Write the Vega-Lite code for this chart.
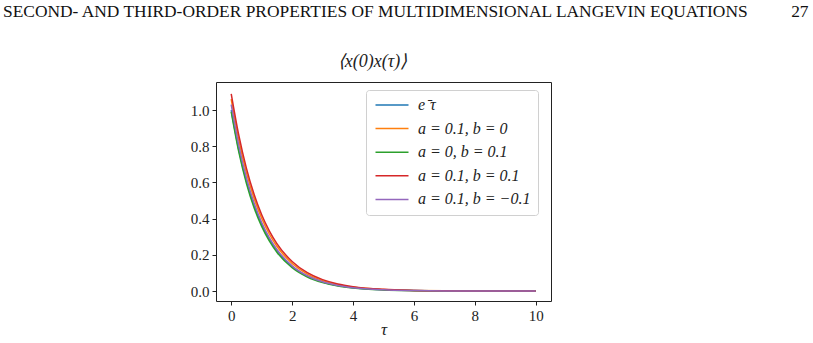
{
  "$schema": "https://vega.github.io/schema/vega-lite/v6.json",
  "autosize": {"type": "none"},
  "width": 335,
  "height": 219,
  "padding": {"left": 216, "top": 82, "right": 262, "bottom": 42},
  "background": "white",
  "title": {
    "text": "SECOND- AND THIRD-ORDER PROPERTIES OF MULTIDIMENSIONAL LANGEVIN EQUATIONS\u00a0\u00a0\u00a0\u00a0\u00a0\u00a0\u00a0\u00a0\u00a0\u00a027",
    "anchor": "start",
    "frame": "group",
    "dx": -213,
    "offset": 32,
    "font": "Liberation Serif",
    "fontSize": 17.4,
    "fontWeight": "normal",
    "color": "#111"
  },
  "config": {
    "view": {"stroke": "#222", "strokeWidth": 1},
    "axis": {
      "domain": false,
      "grid": false,
      "tickColor": "#222",
      "tickSize": 4,
      "labelFont": "Liberation Serif",
      "labelFontSize": 15,
      "labelColor": "#222",
      "labelPadding": 3,
      "titleFont": "Liberation Serif",
      "titleFontSize": 17,
      "titleFontWeight": "normal",
      "titleColor": "#222"
    }
  },
  "data": {
    "values": [
      {"tau": 0, "v": 1.0, "s": "e⁻τ"},
      {"tau": 0.25, "v": 0.7788, "s": "e⁻τ"},
      {"tau": 0.5, "v": 0.6065, "s": "e⁻τ"},
      {"tau": 0.75, "v": 0.4724, "s": "e⁻τ"},
      {"tau": 1, "v": 0.3679, "s": "e⁻τ"},
      {"tau": 1.25, "v": 0.2865, "s": "e⁻τ"},
      {"tau": 1.5, "v": 0.2231, "s": "e⁻τ"},
      {"tau": 2, "v": 0.1353, "s": "e⁻τ"},
      {"tau": 2.5, "v": 0.0821, "s": "e⁻τ"},
      {"tau": 3, "v": 0.0498, "s": "e⁻τ"},
      {"tau": 3.5, "v": 0.0302, "s": "e⁻τ"},
      {"tau": 4, "v": 0.0183, "s": "e⁻τ"},
      {"tau": 5, "v": 0.0067, "s": "e⁻τ"},
      {"tau": 6, "v": 0.0025, "s": "e⁻τ"},
      {"tau": 7, "v": 0.0009, "s": "e⁻τ"},
      {"tau": 8, "v": 0.0003, "s": "e⁻τ"},
      {"tau": 9, "v": 0.0001, "s": "e⁻τ"},
      {"tau": 10, "v": 0.0, "s": "e⁻τ"},

      {"tau": 0, "v": 1.06, "s": "a = 0.1, b = 0"},
      {"tau": 0.25, "v": 0.8318, "s": "a = 0.1, b = 0"},
      {"tau": 0.5, "v": 0.6526, "s": "a = 0.1, b = 0"},
      {"tau": 0.75, "v": 0.5121, "s": "a = 0.1, b = 0"},
      {"tau": 1, "v": 0.4018, "s": "a = 0.1, b = 0"},
      {"tau": 1.25, "v": 0.3152, "s": "a = 0.1, b = 0"},
      {"tau": 1.5, "v": 0.2474, "s": "a = 0.1, b = 0"},
      {"tau": 2, "v": 0.1523, "s": "a = 0.1, b = 0"},
      {"tau": 2.5, "v": 0.0938, "s": "a = 0.1, b = 0"},
      {"tau": 3, "v": 0.0578, "s": "a = 0.1, b = 0"},
      {"tau": 3.5, "v": 0.0355, "s": "a = 0.1, b = 0"},
      {"tau": 4, "v": 0.0218, "s": "a = 0.1, b = 0"},
      {"tau": 5, "v": 0.0083, "s": "a = 0.1, b = 0"},
      {"tau": 6, "v": 0.0032, "s": "a = 0.1, b = 0"},
      {"tau": 7, "v": 0.0012, "s": "a = 0.1, b = 0"},
      {"tau": 8, "v": 0.0004, "s": "a = 0.1, b = 0"},
      {"tau": 9, "v": 0.0002, "s": "a = 0.1, b = 0"},
      {"tau": 10, "v": 0.0001, "s": "a = 0.1, b = 0"},

      {"tau": 0, "v": 0.99, "s": "a = 0, b = 0.1"},
      {"tau": 0.25, "v": 0.7672, "s": "a = 0, b = 0.1"},
      {"tau": 0.5, "v": 0.5945, "s": "a = 0, b = 0.1"},
      {"tau": 0.75, "v": 0.4606, "s": "a = 0, b = 0.1"},
      {"tau": 1, "v": 0.357, "s": "a = 0, b = 0.1"},
      {"tau": 1.25, "v": 0.2766, "s": "a = 0, b = 0.1"},
      {"tau": 1.5, "v": 0.2143, "s": "a = 0, b = 0.1"},
      {"tau": 2, "v": 0.1287, "s": "a = 0, b = 0.1"},
      {"tau": 2.5, "v": 0.0773, "s": "a = 0, b = 0.1"},
      {"tau": 3, "v": 0.0464, "s": "a = 0, b = 0.1"},
      {"tau": 3.5, "v": 0.0279, "s": "a = 0, b = 0.1"},
      {"tau": 4, "v": 0.0167, "s": "a = 0, b = 0.1"},
      {"tau": 5, "v": 0.006, "s": "a = 0, b = 0.1"},
      {"tau": 6, "v": 0.0022, "s": "a = 0, b = 0.1"},
      {"tau": 7, "v": 0.0008, "s": "a = 0, b = 0.1"},
      {"tau": 8, "v": 0.0003, "s": "a = 0, b = 0.1"},
      {"tau": 9, "v": 0.0001, "s": "a = 0, b = 0.1"},
      {"tau": 10, "v": 0.0, "s": "a = 0, b = 0.1"},

      {"tau": 0, "v": 1.09, "s": "a = 0.1, b = 0.1"},
      {"tau": 0.25, "v": 0.8596, "s": "a = 0.1, b = 0.1"},
      {"tau": 0.5, "v": 0.6779, "s": "a = 0.1, b = 0.1"},
      {"tau": 0.75, "v": 0.5345, "s": "a = 0.1, b = 0.1"},
      {"tau": 1, "v": 0.4215, "s": "a = 0.1, b = 0.1"},
      {"tau": 1.25, "v": 0.3325, "s": "a = 0.1, b = 0.1"},
      {"tau": 1.5, "v": 0.2621, "s": "a = 0.1, b = 0.1"},
      {"tau": 2, "v": 0.1631, "s": "a = 0.1, b = 0.1"},
      {"tau": 2.5, "v": 0.1014, "s": "a = 0.1, b = 0.1"},
      {"tau": 3, "v": 0.063, "s": "a = 0.1, b = 0.1"},
      {"tau": 3.5, "v": 0.0392, "s": "a = 0.1, b = 0.1"},
      {"tau": 4, "v": 0.0244, "s": "a = 0.1, b = 0.1"},
      {"tau": 5, "v": 0.0094, "s": "a = 0.1, b = 0.1"},
      {"tau": 6, "v": 0.0037, "s": "a = 0.1, b = 0.1"},
      {"tau": 7, "v": 0.0014, "s": "a = 0.1, b = 0.1"},
      {"tau": 8, "v": 0.0005, "s": "a = 0.1, b = 0.1"},
      {"tau": 9, "v": 0.0002, "s": "a = 0.1, b = 0.1"},
      {"tau": 10, "v": 0.0001, "s": "a = 0.1, b = 0.1"},

      {"tau": 0, "v": 1.03, "s": "a = 0.1, b = −0.1"},
      {"tau": 0.25, "v": 0.8022, "s": "a = 0.1, b = −0.1"},
      {"tau": 0.5, "v": 0.6247, "s": "a = 0.1, b = −0.1"},
      {"tau": 0.75, "v": 0.4866, "s": "a = 0.1, b = −0.1"},
      {"tau": 1, "v": 0.3789, "s": "a = 0.1, b = −0.1"},
      {"tau": 1.25, "v": 0.2951, "s": "a = 0.1, b = −0.1"},
      {"tau": 1.5, "v": 0.2298, "s": "a = 0.1, b = −0.1"},
      {"tau": 2, "v": 0.1394, "s": "a = 0.1, b = −0.1"},
      {"tau": 2.5, "v": 0.0846, "s": "a = 0.1, b = −0.1"},
      {"tau": 3, "v": 0.0513, "s": "a = 0.1, b = −0.1"},
      {"tau": 3.5, "v": 0.0311, "s": "a = 0.1, b = −0.1"},
      {"tau": 4, "v": 0.0188, "s": "a = 0.1, b = −0.1"},
      {"tau": 5, "v": 0.0069, "s": "a = 0.1, b = −0.1"},
      {"tau": 6, "v": 0.0026, "s": "a = 0.1, b = −0.1"},
      {"tau": 7, "v": 0.0009, "s": "a = 0.1, b = −0.1"},
      {"tau": 8, "v": 0.0003, "s": "a = 0.1, b = −0.1"},
      {"tau": 9, "v": 0.0001, "s": "a = 0.1, b = −0.1"},
      {"tau": 10, "v": 0.0, "s": "a = 0.1, b = −0.1"}
    ]
  },
  "resolve": {"axis": {"x": "independent"}},
  "layer": [
    {
      "mark": {"type": "line", "strokeWidth": 1.5, "interpolate": "monotone"},
      "encoding": {
        "x": {
          "field": "tau",
          "type": "quantitative",
          "scale": {"domain": [-0.5, 10.5], "nice": false, "zero": false},
          "axis": {"values": [0, 2, 4, 6, 8, 10], "title": "τ", "titleFontStyle": "italic", "titlePadding": -2}
        },
        "y": {
          "field": "v",
          "type": "quantitative",
          "scale": {"domain": [-0.055, 1.155], "nice": false, "zero": false},
          "axis": {"values": [0, 0.2, 0.4, 0.6, 0.8, 1.0], "format": ".1f", "title": null}
        },
        "color": {
          "field": "s",
          "type": "nominal",
          "sort": null,
          "scale": {
            "domain": ["e⁻τ", "a = 0.1, b = 0", "a = 0, b = 0.1", "a = 0.1, b = 0.1", "a = 0.1, b = −0.1"],
            "range": ["#1f77b4", "#ff7f0e", "#2ca02c", "#d62728", "#9467bd"]
          },
          "legend": {
            "title": null,
            "orient": "none",
            "legendX": 150,
            "legendY": 8,
            "symbolType": "M-3,0H3",
            "symbolSize": 121,
            "symbolStrokeWidth": 1.5,
            "symbolOffset": 11,
            "labelFont": "Liberation Serif",
            "labelFontSize": 16,
            "labelFontStyle": "italic",
            "labelColor": "#222",
            "labelOffset": 18,
            "rowPadding": 7.6,
            "padding": 7,
            "strokeColor": "#d0d0d0",
            "fillColor": "white",
            "cornerRadius": 3
          }
        }
      }
    },
    {
      "mark": {"type": "rule", "opacity": 0},
      "encoding": {
        "x": {
          "field": "tau",
          "type": "quantitative",
          "axis": {
            "orient": "top",
            "title": "⟨x(0)x(τ)⟩",
            "titleFontStyle": "italic",
            "titleFontSize": 18,
            "titleX": 156,
            "titleAlign": "center",
            "titlePadding": 12,
            "labels": false,
            "ticks": false,
            "domain": false
          }
        }
      }
    }
  ]
}
